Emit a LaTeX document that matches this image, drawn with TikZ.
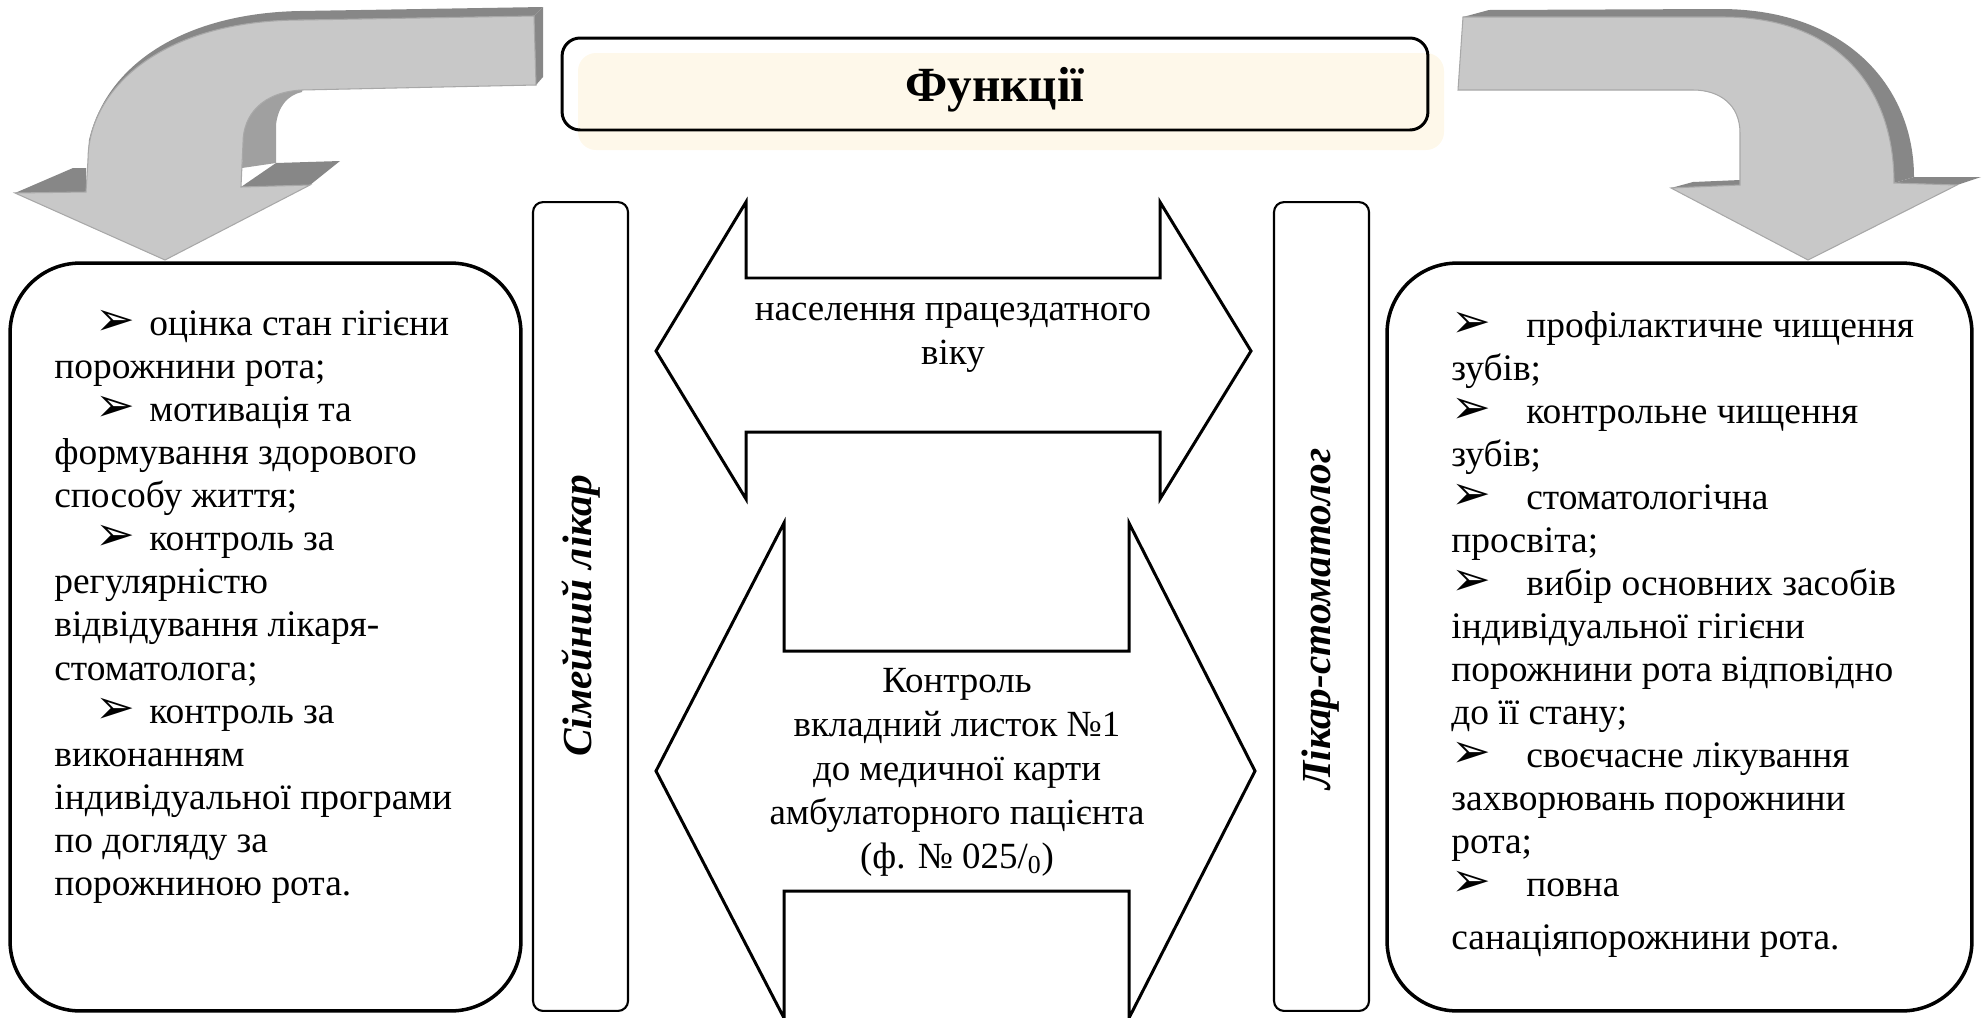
\documentclass[tikz,border=0pt]{standalone}
\usepackage{fontspec}
\setmainfont{Liberation Serif}
\newfontfamily\symfont{DejaVu Sans}
\usetikzlibrary{positioning}
\definecolor{arrface}{HTML}{C8C8C8}
\definecolor{arrside}{HTML}{878787}
\definecolor{arredge}{HTML}{A8A8A8}
\definecolor{arrin}{HTML}{A0A0A0}
\definecolor{cream}{HTML}{FEF8EA}
\tikzset{
    bigbox/.style={draw, line width=2pt, rounded corners=1.4cm},
    vbox/.style={draw, line width=1.2pt, rounded corners=0.2cm, rotate=90},
    vlabel/.style={rotate=90, inner sep=0pt, font=\fontsize{23.5}{26}\selectfont\bfseries\itshape},
    dblarrow/.style={draw, line width=1.7pt, fill=white, line join=miter},
    arrbody/.style={fill=arrface, draw=arredge, line width=0.6pt},
    listtext/.style={align=left, inner sep=0pt, anchor=north west,
      font=\fontsize{21.3}{24.5}\selectfont},
    arrtext/.style={align=center, inner sep=0pt, font=\fontsize{21}{25}\selectfont},
  }
\newcommand{\bul}{{\symfont\fontsize{27}{24}\selectfont ➢}}
\newcommand{\itemL}{\hspace*{0.82cm}\makebox[1.08cm][l]{\bul}}
\newcommand{\itemR}{\makebox[1.5cm][l]{\bul}}
\begin{document}
\begin{tikzpicture}[x=0.02cm, y=-0.02cm]
          \useasboundingbox (0,0) rectangle (1982,1018);
          %FLECHE gauche
          \fill[arrside] (534,16) -- (543,7) -- (543,77) -- (536,85) -- cycle;
          \fill[arrside] (534,16) -- (543,7) -- (300,11) .. controls (190,13) and (108,60) .. (89,140) -- (88,160) .. controls (88,90) and (160,20) .. (302,20) -- cycle;
          \fill[arrin] (302,90) .. controls (262,92) and (243,115) .. (243,143) -- (242,168) -- (276,163) -- (276,125) .. controls (278,106) and (288,95) .. (302,92) -- cycle;
          \fill[arrside] (15,193) -- (73,168) -- (86,168) -- (86,192) -- cycle;
          \fill[arrside] (241,187) -- (276,163) -- (340,161) -- (310,185) -- cycle;
          \draw[arrbody] (534,16) -- (302,20) .. controls (160,20) and (88,90) .. (88,160) -- (86,192) -- (15,193) -- (165,260) -- (310,185) -- (241,187) -- (243,143) .. controls (243,115) and (262,92) .. (302,90) -- (536,85) -- cycle;
          %FLECHE droite
          \fill[arrside] (1463,17) -- (1489,10) -- (1720,9) .. controls (1850,9) and (1914,90) .. (1914,177) -- (1894,183) .. controls (1894,90) and (1840,17) .. (1723,17) -- cycle;
          \fill[arrside] (1671,188) -- (1693,182) -- (1740,180) -- (1740,185) -- cycle;
          \fill[arrside] (1894,183) -- (1914,177) -- (1981,177) -- (1957,185) -- cycle;
          \draw[arrbody] (1463,17) -- (1723,17) .. controls (1840,17) and (1894,90) .. (1894,183) -- (1957,185) -- (1808,260) -- (1671,188) -- (1740,185) -- (1740,133) .. controls (1740,105) and (1720,90) .. (1693,90) -- (1458,90) -- cycle;
          %TITRE
          \fill[cream, rounded corners=0.36cm] (578,53) rectangle (1444,150);
          \node[draw, line width=1.7pt, rounded corners=0.36cm, minimum width=17.32cm, minimum height=1.84cm] (title) at (995,84) {};
          \node[font=\fontsize{28}{32}\selectfont\bfseries] (titletext) at (995,90) {Функції};
          %BLOCS
          \node[bigbox, minimum width=10.22cm, minimum height=14.96cm] (leftbox) at (265.5,637) {};
          \node[bigbox, minimum width=11.7cm, minimum height=14.96cm] (rightbox) at (1679.5,637) {};
          \node[vbox, minimum width=16.18cm, minimum height=1.9cm] (famdoc) at (580.5,606.5) {};
          \node[vbox, minimum width=16.18cm, minimum height=1.9cm] (dentist) at (1321.5,606.5) {};
          \node[vlabel] (famdoctext) at (581,616) {Сімейний лікар};
          \node[vlabel] (dentisttext) at (1321,619) {Лікар-стоматолог};
          %DOUBLES FLECHES
          \draw[dblarrow] (656,351) -- (746,202) -- (746,278) -- (1160,278) -- (1160,202) -- (1251,351) -- (1160,499) -- (1160,432) -- (746,432) -- (746,499) -- cycle;
          \draw[dblarrow] (656,771) -- (784,523) -- (784,651) -- (1129,651) -- (1129,523) -- (1255,771) -- (1129,1018) -- (1129,891) -- (784,891) -- (784,1018) -- cycle;
          \node[arrtext] (people) at (953,338) {населення працездатного\\віку};
          \node[arrtext] (control) at (957,772) {Контроль\\вкладний листок №1\\до медичної карти\\амбулаторного пацієнта\\(ф. № 025/\textsubscript{0})};
          %LISTES
          \node[listtext] (leftlist) at (54,310) {\itemL оцінка стан гігієни\\
            порожнини рота;\\
            \itemL мотивація та\\
            формування здорового\\
            способу життя;\\
            \itemL контроль за\\
            регулярністю\\
            відвідування лікаря-\\
            стоматолога;\\
            \itemL контроль за\\
            виконанням\\
            індивідуальної програми\\
            по догляду за\\
            порожниною рота.};
          \node[listtext] (rightlist) at (1451,311) {\itemR профілактичне чищення\\
            зубів;\\
            \itemR контрольне чищення\\
            зубів;\\
            \itemR стоматологічна\\
            просвіта;\\
            \itemR вибір основних засобів\\
            індивідуальної гігієни\\
            порожнини рота відповідно\\
            до її стану;\\
            \itemR своєчасне лікування\\
            захворювань порожнини\\
            рота;\\
            \itemR повна\\[0.2cm]
            санаціяпорожнини рота.};
\end{tikzpicture}
\end{document}
